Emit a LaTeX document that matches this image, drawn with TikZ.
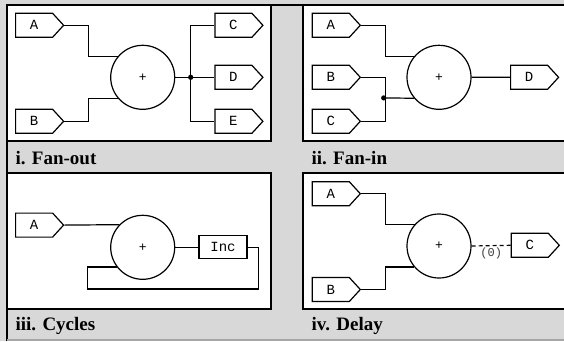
\documentclass[tikz,border=0pt]{standalone}
\usepackage{fontspec}
\setmainfont{Liberation Serif}
\setmonofont{Liberation Mono}
\usetikzlibrary{shapes.symbols,calc,positioning}
\definecolor{cellgray}{RGB}{216,216,216}
\tikzset{
  port/.style={draw,fill=white,shape=signal,signal to=east,signal pointer angle=95,
    minimum width=48pt,minimum height=24pt,inner sep=0pt,anchor=west,
    font=\ttfamily\fontsize{14}{14}\selectfont},
  adder/.style={draw,fill=white,circle,minimum size=64pt,inner sep=0pt,
    font=\ttfamily\fontsize{13}{13}\selectfont},
  panel/.style={draw,fill=white,line width=1.6pt},
  caption/.style={anchor=base west,inner sep=0pt,font=\bfseries\fontsize{19}{19}\selectfont},
}

\begin{document}
\begin{tikzpicture}[x=1pt,y=-1pt,line width=1.2pt,line join=miter]
\useasboundingbox (0,0) rectangle (564,341);
\clip (0,0) rectangle (564,341);
\fill[cellgray] (0,0) rectangle (564,341);
\draw[line width=1.8pt] (7,341) -- (7,5) -- (564,5);
\draw[gray!70,line width=1.5pt] (7,340) -- (564,340);
% the four cells
\draw[panel] (7,5) rectangle (271,141);
\draw[panel] (303,5) rectangle (570,141);
\draw[panel] (7,173) rectangle (271,309);
\draw[panel] (303,173) rectangle (570,309);
\node[caption] (cap1) at (15,164) {i. Fan-out};
\node[caption] (cap2) at (311,164) {ii. Fan-in};
\node[caption] (cap3) at (15,330) {iii. Cycles};
\node[caption] (cap4) at (311,330) {iv. Delay};

% i: one sum feeding three outputs
\node[adder] (s1) at (142.7,77.3) {+};
\node[port] (A1) at (15,25.3) {A};
\node[port] (B1) at (15,121.3) {B};
\node[port] (C1) at (214.3,25.3) {C};
\node[port] (D1) at (214.3,77.3) {D};
\node[port] (E1) at (214.3,121.3) {E};
\coordinate (j1) at (190.7,77.3);
\draw (A1.east) -- ++(24,0) |- (s1.140);
\draw (B1.east) -- ++(24,0) |- (s1.220);
\draw (s1.east) -- (D1.west) (C1.west) -| (j1) |- (E1.west);
\fill (j1) circle (2.6pt);

% ii: two inputs joined before the sum
\node[adder] (s2) at (439,77.3) {+};
\node[port] (A2) at (311.7,25.3) {A};
\node[port] (B2) at (311.7,77.3) {B};
\node[port] (C2) at (311.7,121.3) {C};
\node[port] (D2) at (510,77.3) {D};
\coordinate (j2) at (383.7,97.9);
\draw (A2.east) -- ++(24,0) |- (s2.140);
\draw (B2.east) -- ++(24,0) |- (C2.east);
\draw (j2) -- (s2.220) (s2.east) -- (D2.west);
\fill (j2) circle (2.6pt);

% iii: feedback through Inc
\node[adder] (s3) at (142.7,247.3) {+};
\node[port] (A3) at (15,225.1) {A};
\node[draw,fill=white,minimum width=48pt,minimum height=23pt,inner sep=0pt,
  font=\ttfamily\fontsize{14}{14}\selectfont] (inc) at (223,247.3) {Inc};
\coordinate (lp) at (87.3,289);
\draw (A3.east) -- (s3.136);
\draw (s3.east) -- (inc.west);
\draw (inc.east) -- ++(11,0) |- (lp) |- (s3.217);

% iv: delayed output
\node[adder] (s4) at (439,246) {+};
\node[port] (A4) at (311.7,193.7) {A};
\node[port] (B4) at (311.7,289.5) {B};
\node[port] (C4) at (510.7,245.3) {C};
\draw (A4.east) -- ++(24,0) |- (s4.138);
\draw (B4.east) -- ++(24,0) |- (s4.220);
\draw[dash pattern=on 4pt off 3pt] (s4.east) -- node[below=1pt,inner sep=1pt,text=black!75,
  font=\ttfamily\fontsize{12}{12}\selectfont] (dl) {(0)} (C4.west);
\end{tikzpicture}
\end{document}
